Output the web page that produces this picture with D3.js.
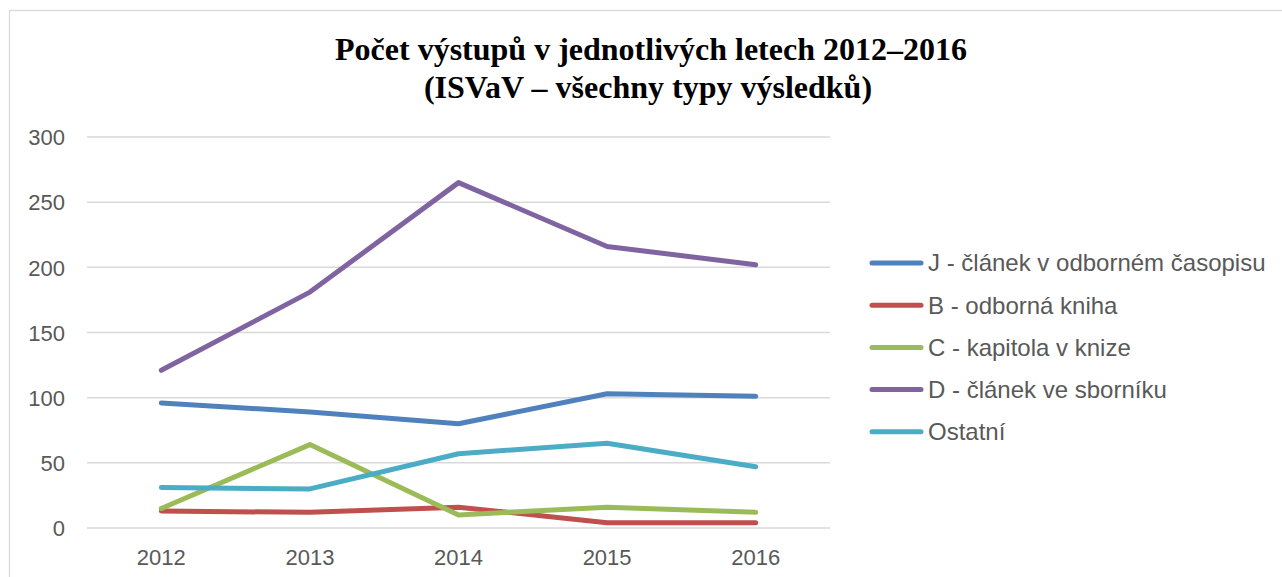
<!DOCTYPE html>
<html>
<head>
<meta charset="utf-8">
<script src="https://cdn.jsdelivr.net/npm/d3@7"></script>
<style>
  body { margin: 0; background: #fff; }
</style>
</head>
<body>
<div id="target"></div>
<script>
let years = ["2012", "2013", "2014", "2015", "2016"]
let seriesNames = [
  "J - článek v odborném časopisu",
  "B - odborná kniha",
  "C - kapitola v knize",
  "D - článek ve sborníku",
  "Ostatní"
]
let valuesJ = [96, 89, 80, 103, 101]
let valuesB = [13, 12, 16, 4, 4]
let valuesC = [15, 64, 10, 16, 12]
let valuesD = [121, 181, 265, 216, 202]
let valuesOstatni = [31, 30, 57, 65, 47]
let yTicks = [0, 50, 100, 150, 200, 250, 300]
let colors = ["#4F81BD", "#C0504D", "#9BBB59", "#8064A2", "#4BACC6"]

let width = 1282,
  height = 577,
  margin = { top: 137, left: 87, right: 452, bottom: 49 }

let series = seriesNames.map((name, i) => ({
  name: name,
  values: [valuesJ, valuesB, valuesC, valuesD, valuesOstatni][i],
  color: colors[i]
}))

let svg = d3.select("#target").append("svg")
  .attr("width", width)
  .attr("height", height)
  .style("display", "block")

// chart border
svg.append("rect")
  .attr("x", 9.5).attr("y", 10.5)
  .attr("width", 1300).attr("height", 600)
  .attr("fill", "none")
  .attr("stroke", "#d9d9d9")
  .attr("stroke-width", 1.3)

let title = svg.append("text")
  .attr("x", 651)
  .attr("text-anchor", "middle")
  .style("font-family", "'Liberation Serif', 'Times New Roman', serif")
  .style("font-weight", "bold")
  .style("font-size", "32px")
  .attr("fill", "#000")
title.append("tspan").attr("x", 651).attr("y", 60).text("Počet výstupů v jednotlivých letech 2012–2016")
title.append("tspan").attr("x", 648).attr("y", 98).text("(ISVaV – všechny typy výsledků)")

let x = d3.scaleBand()
  .domain(years)
  .range([margin.left, width - margin.right])

let y = d3.scaleLinear()
  .domain([0, 300])
  .range([height - margin.bottom, margin.top])

// gridlines
svg.append("g")
  .selectAll("line")
  .data(yTicks)
  .enter().append("line")
  .attr("x1", margin.left)
  .attr("x2", width - margin.right)
  .attr("y1", d => y(d))
  .attr("y2", d => y(d))
  .attr("stroke", "#d9d9d9")
  .attr("stroke-width", 1.5)

let yAxis = d3.axisLeft(y).tickValues(yTicks).tickSize(0).tickPadding(0)
let gy = svg.append("g")
  .attr("class", "y axis")
  .attr("transform", "translate(65,0)")
  .call(yAxis)
gy.select(".domain").remove()
gy.selectAll("text")
  .attr("dy", "0.35em")
  .style("font-family", "'Liberation Sans', Arial, sans-serif")
  .style("font-size", "22px")
  .attr("fill", "#595959")

let xAxis = d3.axisBottom(x).tickSize(0).tickPadding(0)
let gx = svg.append("g")
  .attr("class", "x axis")
  .attr("transform", "translate(0," + (height - margin.bottom) + ")")
  .call(xAxis)
gx.select(".domain").remove()
gx.selectAll("text")
  .attr("y", 37)
  .attr("dy", 0)
  .style("font-family", "'Liberation Sans', Arial, sans-serif")
  .style("font-size", "22px")
  .attr("fill", "#595959")

let line = d3.line()
  .x((d, i) => x(years[i]) + x.bandwidth() / 2)
  .y(d => y(d))

svg.append("g")
  .selectAll("path")
  .data(series)
  .enter().append("path")
  .attr("d", d => line(d.values))
  .attr("fill", "none")
  .attr("stroke", d => d.color)
  .attr("stroke-width", 5)
  .attr("stroke-linecap", "round")
  .attr("stroke-linejoin", "round")

let legend = svg.append("g")
  .selectAll("g")
  .data(series)
  .enter().append("g")
  .attr("transform", (d, i) => "translate(872," + (263 + i * 42.2) + ")")

legend.append("line")
  .attr("x1", 0).attr("x2", 49)
  .attr("stroke", d => d.color)
  .attr("stroke-width", 5)
  .attr("stroke-linecap", "round")

legend.append("text")
  .attr("x", 56)
  .attr("dy", "0.35em")
  .style("font-family", "'Liberation Sans', Arial, sans-serif")
  .style("font-size", "24px")
  .attr("fill", "#595959")
  .text(d => d.name)
</script>
</body>
</html>
